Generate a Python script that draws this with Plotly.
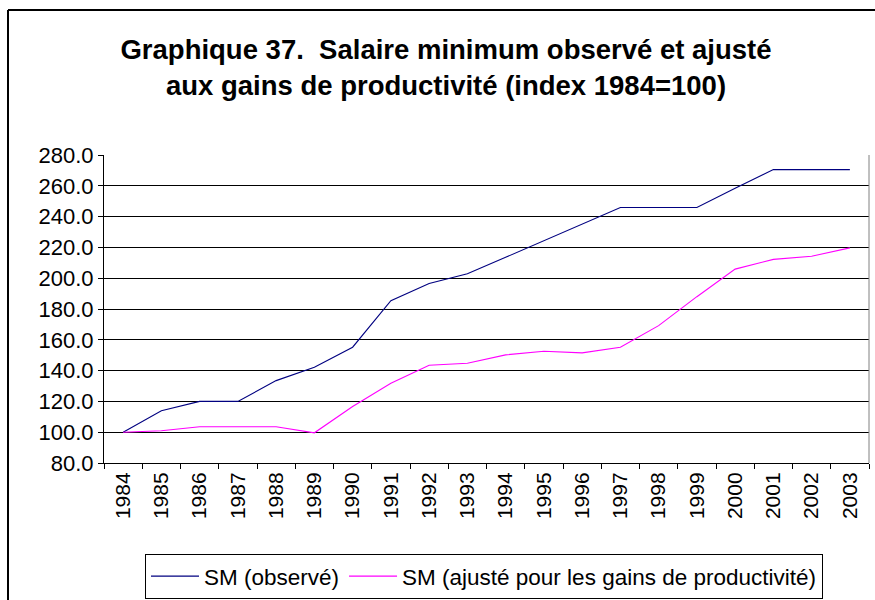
import plotly.graph_objects as go

# Years and index values (1984 = 100)
years = [str(y) for y in range(1984, 2004)]
sm_observe = [100.0, 113.9, 120.0, 120.0, 133.5, 142.2, 155.2, 185.4, 196.6, 202.9,
              213.6, 224.5, 235.3, 245.9, 245.9, 245.9, 258.4, 270.5, 270.5, 270.5]
sm_ajuste = [100.0, 100.9, 103.5, 103.5, 103.5, 99.6, 116.7, 131.8, 143.5, 144.8,
             150.2, 152.6, 151.5, 155.2, 169.2, 188.0, 205.9, 212.2, 214.3, 219.7]
y_ticks = [80 + 20 * i for i in range(11)]

title_text = ("<b>Graphique 37.\u00a0\u00a0Salaire minimum observé et ajusté<br>"
              "aux gains de productivité (index 1984=100)</b>")

FONT = "Liberation Sans, Arial, sans-serif"
W, H = 875, 600
L, R, T, B = 104, 6, 155, 137
PW, PH = W - L - R, H - T - B


def px_x(x):
    return (x - L) / PW


def px_y(y):
    return (H - B - y) / PH


fig = go.Figure()
fig.add_trace(go.Scatter(x=years, y=sm_observe, mode="lines", name="SM (observé)",
                         line=dict(color="#000080", width=1.1)))
fig.add_trace(go.Scatter(x=years, y=sm_ajuste, mode="lines",
                         name="SM (ajusté pour les gains de productivité)",
                         line=dict(color="#FF00FF", width=1.1)))

fig.update_layout(
    width=W, height=H,
    margin=dict(l=L, r=R, t=T, b=B),
    paper_bgcolor="white", plot_bgcolor="white",
    font=dict(family=FONT, color="black", size=21),
    title=dict(text=title_text, x=446 / W, xanchor="center", xref="container",
               y=1 - 59 / H, yanchor="top", yref="container",
               font=dict(family=FONT, size=27.5, color="black")),
    showlegend=True,
    legend=dict(orientation="h", xref="container", yref="container",
                x=145 / W, xanchor="left", y=1 - 554 / H, yanchor="top",
                bordercolor="black", borderwidth=1, bgcolor="white",
                font=dict(family=FONT, size=22.5), itemwidth=48,
                tracegroupgap=0),
    xaxis=dict(type="category", range=[-0.5, len(years) - 0.5],
               tickangle=-90, tickson="boundaries", ticks="outside", ticklen=5,
               tickcolor="black", showline=True, linecolor="black", linewidth=1,
               showgrid=False, ticklabelstandoff=0, fixedrange=True),
    yaxis=dict(range=[80, 280], tickvals=y_ticks, tickformat=".1f",
               ticksuffix="\u2002",
               ticks="outside", ticklen=5, tickcolor="black",
               tickfont=dict(family=FONT, size=22),
               showline=True, linecolor="black", linewidth=1,
               showgrid=True, gridcolor="black", gridwidth=1,
               zeroline=False, fixedrange=True),
)

# Right edge of the plotting area
fig.add_shape(type="line", xref="paper", yref="paper", x0=1, x1=1, y0=0, y1=1,
              line=dict(color="#808080", width=1))
# Chart frame (top and left edges)
fig.add_shape(type="line", xref="paper", yref="paper",
              x0=px_x(8), x1=px_x(876), y0=px_y(10), y1=px_y(10),
              line=dict(color="black", width=2))
fig.add_shape(type="line", xref="paper", yref="paper",
              x0=px_x(8), x1=px_x(8), y0=px_y(10), y1=px_y(601),
              line=dict(color="black", width=2))

fig.write_html("out.html")
